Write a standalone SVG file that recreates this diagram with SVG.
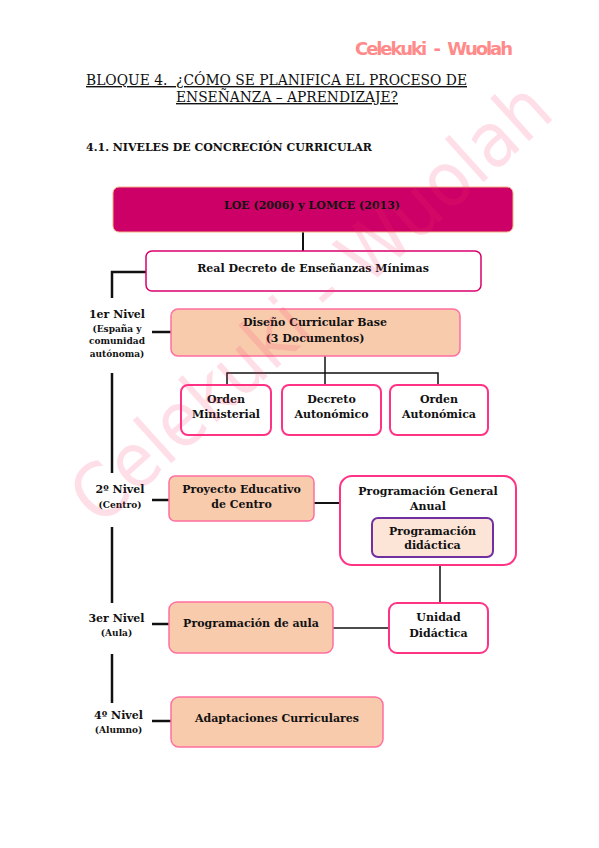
<svg xmlns="http://www.w3.org/2000/svg" width="599" height="848" viewBox="0 0 599 848">
<style>
.t{font-family:"DejaVu Serif","Liberation Serif",serif;font-weight:bold;font-size:11px;fill:#111;text-anchor:middle}
.s{font-family:"DejaVu Serif","Liberation Serif",serif;font-weight:bold;font-size:9px;fill:#111;text-anchor:middle}
.h{font-family:"DejaVu Serif","Liberation Serif",serif;font-size:14px;fill:#111;text-decoration:underline}
.w{fill:#fff;stroke:#ff3385;stroke-width:2}
.p{fill:#f8cbad;stroke:#ff6f9f;stroke-width:1.5}
.c{stroke:#111;fill:none}
</style>
<rect width="599" height="848" fill="#fff"/>
<text x="355" y="55" textLength="158" lengthAdjust="spacing" xml:space="preserve" font-family="DejaVu Sans,Liberation Sans,sans-serif" font-weight="bold" font-size="18" fill="#ff8a8a">Celekuki  -  Wuolah</text>
<text class="h" x="86" y="85" textLength="381" lengthAdjust="spacingAndGlyphs" xml:space="preserve">BLOQUE 4.  ¿CÓMO SE PLANIFICA EL PROCESO DE</text>
<text class="h" x="176" y="102" textLength="222" lengthAdjust="spacingAndGlyphs">ENSEÑANZA – APRENDIZAJE?</text>
<text x="86" y="151" textLength="286" lengthAdjust="spacingAndGlyphs" font-family="DejaVu Serif,Liberation Serif,serif" font-weight="bold" font-size="11" fill="#111">4.1. NIVELES DE CONCRECIÓN CURRICULAR</text>
<g id="connectors">
<line class="c" x1="303" y1="232" x2="303" y2="251" stroke-width="2"/>
<polyline class="c" points="146,272 112,272 112,298" stroke-width="2.5"/>
<line class="c" x1="112" y1="373" x2="112" y2="473" stroke-width="2.5"/>
<line class="c" x1="112" y1="527" x2="112" y2="603" stroke-width="2.5"/>
<line class="c" x1="112" y1="654" x2="112" y2="703" stroke-width="2.5"/>
<line class="c" x1="152" y1="332" x2="171" y2="332" stroke-width="2.5"/>
<line class="c" x1="152" y1="500" x2="169" y2="500" stroke-width="2.5"/>
<line class="c" x1="152" y1="624" x2="169" y2="624" stroke-width="2.5"/>
<line class="c" x1="152" y1="721" x2="171" y2="721" stroke-width="2.5"/>
<line class="c" x1="325" y1="356" x2="325" y2="385" stroke-width="1.5"/>
<polyline class="c" points="227,385 227,373 438,373 438,385" stroke-width="1.5"/>
<line class="c" x1="314" y1="503" x2="340" y2="503" stroke-width="2"/>
<line class="c" x1="440" y1="565" x2="440" y2="603" stroke-width="1.5"/>
<line class="c" x1="333" y1="628" x2="389" y2="628" stroke-width="1.5"/>
</g>
<g id="loe"><rect x="113" y="187" width="400" height="45" rx="6" fill="#cc0066" stroke="#f4b183" stroke-width="1"/><text class="t" x="312" y="209">LOE (2006) y LOMCE (2013)</text></g>
<g id="real-decreto"><rect x="146" y="251" width="335" height="40" rx="6" fill="#fff" stroke="#d9006c" stroke-width="1.5"/><text class="t" x="313" y="272">Real Decreto de Enseñanzas Mínimas</text></g>
<g id="nivel1"><text class="t" x="117" y="318">1er Nivel</text><text class="s" x="117" y="332">(España y</text><text class="s" x="117" y="344">comunidad</text><text class="s" x="117" y="357">autónoma)</text></g>
<g id="dcb"><rect class="p" x="171" y="309" width="289" height="47" rx="7"/><text class="t" x="315" y="326">Diseño Curricular Base</text><text class="t" x="315" y="342">(3 Documentos)</text></g>
<g id="orden-ministerial"><rect class="w" x="181" y="385" width="90" height="50" rx="7"/><text class="t" x="226" y="403">Orden</text><text class="t" x="226" y="418">Ministerial</text></g>
<g id="decreto-autonomico"><rect class="w" x="282" y="385" width="99" height="50" rx="7"/><text class="t" x="331.5" y="403">Decreto</text><text class="t" x="331.5" y="418">Autonómico</text></g>
<g id="orden-autonomica"><rect class="w" x="390" y="385" width="98" height="50" rx="7"/><text class="t" x="439" y="403">Orden</text><text class="t" x="439" y="418">Autonómica</text></g>
<g id="nivel2"><text class="t" x="120" y="493">2º Nivel</text><text class="s" x="120" y="508">(Centro)</text></g>
<g id="pec"><rect class="p" x="169" y="476" width="145" height="45" rx="6"/><text class="t" x="241.5" y="493">Proyecto Educativo</text><text class="t" x="241.5" y="508">de Centro</text></g>
<g id="pga"><rect class="w" x="340" y="476" width="176" height="89" rx="12"/><text class="t" x="428" y="495">Programación General</text><text class="t" x="428" y="510">Anual</text></g>
<g id="prog-didactica"><rect x="372" y="518" width="121" height="39" rx="6" fill="#fce4d6" stroke="#7030a0" stroke-width="2"/><text class="t" x="432.5" y="535">Programación</text><text class="t" x="432.5" y="549">didáctica</text></g>
<g id="nivel3"><text class="t" x="116.5" y="622">3er Nivel</text><text class="s" x="116.5" y="636">(Aula)</text></g>
<g id="prog-aula"><rect class="p" x="169" y="602" width="164" height="51" rx="8"/><text class="t" x="251" y="627">Programación de aula</text></g>
<g id="unidad"><rect class="w" x="389" y="603" width="99" height="50" rx="8"/><text class="t" x="438.5" y="621">Unidad</text><text class="t" x="438.5" y="637">Didáctica</text></g>
<g id="nivel4"><text class="t" x="118.5" y="719">4º Nivel</text><text class="s" x="118.5" y="733">(Alumno)</text></g>
<g id="adaptaciones"><rect class="p" x="171" y="697" width="212" height="50" rx="8"/><text class="t" x="277" y="722">Adaptaciones Curriculares</text></g>
<text x="328" y="322" transform="rotate(-42 328 322)" text-anchor="middle" textLength="615" lengthAdjust="spacingAndGlyphs" font-family="DejaVu Sans,Liberation Sans,sans-serif" font-size="76" fill="#ff3366" opacity="0.15">Celekuki - Wuolah</text>
</svg>
